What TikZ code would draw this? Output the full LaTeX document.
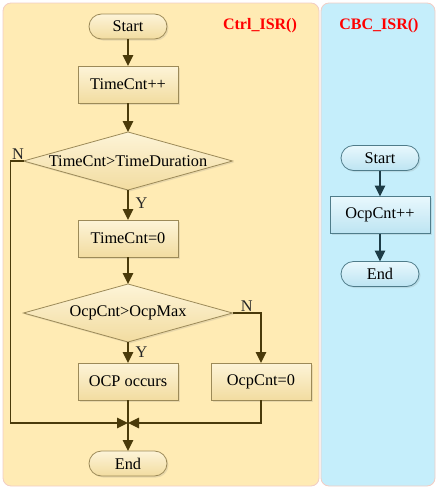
\documentclass[tikz,border=0pt]{standalone}
\usepackage{fontspec}
\setmainfont{Liberation Serif}
\usetikzlibrary{arrows.meta,positioning,shapes.geometric,shadows}
\definecolor{CtrlPanel}{HTML}{FFEBB4}
\definecolor{CbcPanel}{HTML}{C5EEFB}
\definecolor{PanelEdge}{HTML}{F2CDC4}
\definecolor{CtrlTop}{HTML}{FDF4D8}
\definecolor{CtrlBottom}{HTML}{F2DCA0}
\definecolor{CtrlEdge}{HTML}{9C8A58}
\definecolor{CtrlArrow}{HTML}{4A3A0A}
\definecolor{CbcTop}{HTML}{E8F8FD}
\definecolor{CbcBottom}{HTML}{BDE4F2}
\definecolor{CbcEdge}{HTML}{4F7C8A}
\definecolor{CbcArrow}{HTML}{1D3C47}
\definecolor{TitleRed}{HTML}{FF0000}

\begin{document}
\begin{tikzpicture}[
  x=1pt,y=-1pt,
  node distance=27pt,
  font=\fontsize{16.3}{19}\selectfont,
  panel/.style={draw=PanelEdge,rounded corners=8pt,line width=0.8pt},
  box/.style={draw=CtrlEdge,line width=0.8pt,top color=CtrlTop,bottom color=CtrlBottom,
    minimum width=100pt,minimum height=37pt,inner sep=0pt,outer sep=0pt,
    drop shadow={opacity=0.18,shadow xshift=1.5pt,shadow yshift=-1.5pt}},
  term/.style={box,rounded corners=12.5pt,minimum width=78pt,minimum height=25pt},
  decision/.style={box,diamond,aspect=3.6,inner sep=-4pt,minimum width=209pt,minimum height=58pt},
  cbc/.style={draw=CbcEdge,top color=CbcTop,bottom color=CbcBottom},
  arrow/.style={-{Triangle[length=11pt,width=10.5pt]},draw=CtrlArrow,line width=1.3pt},
  cbcarrow/.style={arrow,draw=CbcArrow},
  lbl/.style={inner sep=1pt,text=black!85},
  title/.style={text=TitleRed,font=\bfseries\fontsize{16}{19}\selectfont}
]
\useasboundingbox (0,0) rectangle (439,490);
\path[panel,fill=CtrlPanel] (3,3) rectangle (319,486);
\path[panel,fill=CbcPanel] (321,3) rectangle (435,486);

% Ctrl_ISR
\node[term] (start) at (128,26.5) {Start};
\node[title] (ctrltitle) at (260,26) {Ctrl\_ISR()};
\node[box,below=of start] (tick) {TimeCnt++};
\node[decision,below=29pt of tick] (late) {TimeCnt>TimeDuration};
\node[box,below=30pt of late] (reset) {TimeCnt=0};
\node[decision,below=27pt of reset] (over) {OcpCnt>OcpMax};
\node[box,below=21pt of over] (occur) {OCP occurs};
\node[box,right=33pt of occur] (clear) {OcpCnt=0};
\node[term,below=51pt of occur] (finish) {End};
\coordinate[below=23pt of occur] (join);

\draw[arrow] (start) -- (tick);
\draw[arrow] (tick) -- (late);
\draw[arrow] (late) -- node[lbl,right=6pt,pos=0.45] {Y} (reset);
\draw[arrow] (reset) -- (over);
\draw[arrow] (over) -- node[lbl,right=6pt] {Y} (occur);
\draw[arrow] (over.east) -| node[lbl,above,pos=0.25] {N} (clear);
\draw[arrow] (occur) -- (finish);
\draw[arrow] (late.west) -- ++(-13,0) node[lbl,above right] {N} |- (join);
\draw[arrow] (clear) |- (join);

% CBC_ISR
\node[title] (cbctitle) at (379,26) {CBC\_ISR()};
\node[term,cbc] (cbcstart) at (380,158) {Start};
\node[box,cbc,below=26pt of cbcstart] (count) {OcpCnt++};
\node[term,cbc,below=28pt of count] (cbcend) {End};

\draw[cbcarrow] (cbcstart) -- (count);
\draw[cbcarrow] (count) -- (cbcend);
\end{tikzpicture}
\end{document}
